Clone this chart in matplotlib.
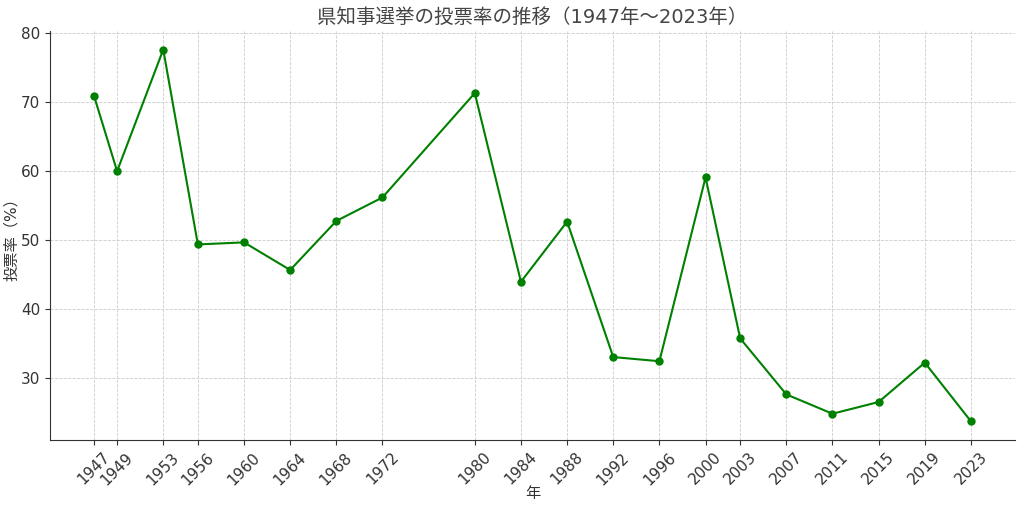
import matplotlib
matplotlib.use('Agg')
import matplotlib.pyplot as plt

plt.rcParams['font.family'] = ['DejaVu Sans', 'Noto Sans CJK JP']

years = [1947, 1949, 1953, 1956, 1960, 1964, 1968, 1972, 1980, 1984,
         1988, 1992, 1996, 2000, 2003, 2007, 2011, 2015, 2019, 2023]
turnout = [70.9, 60.0, 77.6, 49.4, 49.7, 45.7, 52.8, 56.2, 71.3, 44.0,
           52.7, 33.1, 32.5, 59.1, 35.8, 27.7, 24.9, 26.6, 32.3, 23.8]

title = '県知事選挙の投票率の推移（1947年～2023年）'
xlabel = '年'
ylabel = '投票率（%）'

text_color = '#333333'

fig, ax = plt.subplots(figsize=(10.24, 5.08), dpi=100)
ax.plot(years, turnout, color='green', marker='o', markersize=5, linewidth=1.5)

ax.set_title(title, fontsize=14, color='#444444')
ax.set_xlabel(xlabel, fontsize=11, color=text_color)
ax.set_ylabel(ylabel, fontsize=11, color=text_color)
ax.yaxis.set_label_coords(-0.032, 0.5)
ax.xaxis.set_label_coords(0.5, -0.112)
ax.set_xticks(years)
ax.set_xticklabels([str(y) for y in years], rotation=45, fontsize=11)
ax.tick_params(axis='y', labelsize=11)
ax.tick_params(colors=text_color)
ax.grid(True, linestyle='--', linewidth=0.6, color='#cccccc')
ax.spines['top'].set_visible(False)
ax.spines['right'].set_visible(False)
ax.spines['left'].set_color(text_color)
ax.spines['bottom'].set_color(text_color)

plt.subplots_adjust(left=0.049, right=0.991, top=0.939, bottom=0.134)
plt.savefig('out.png', dpi=100)
